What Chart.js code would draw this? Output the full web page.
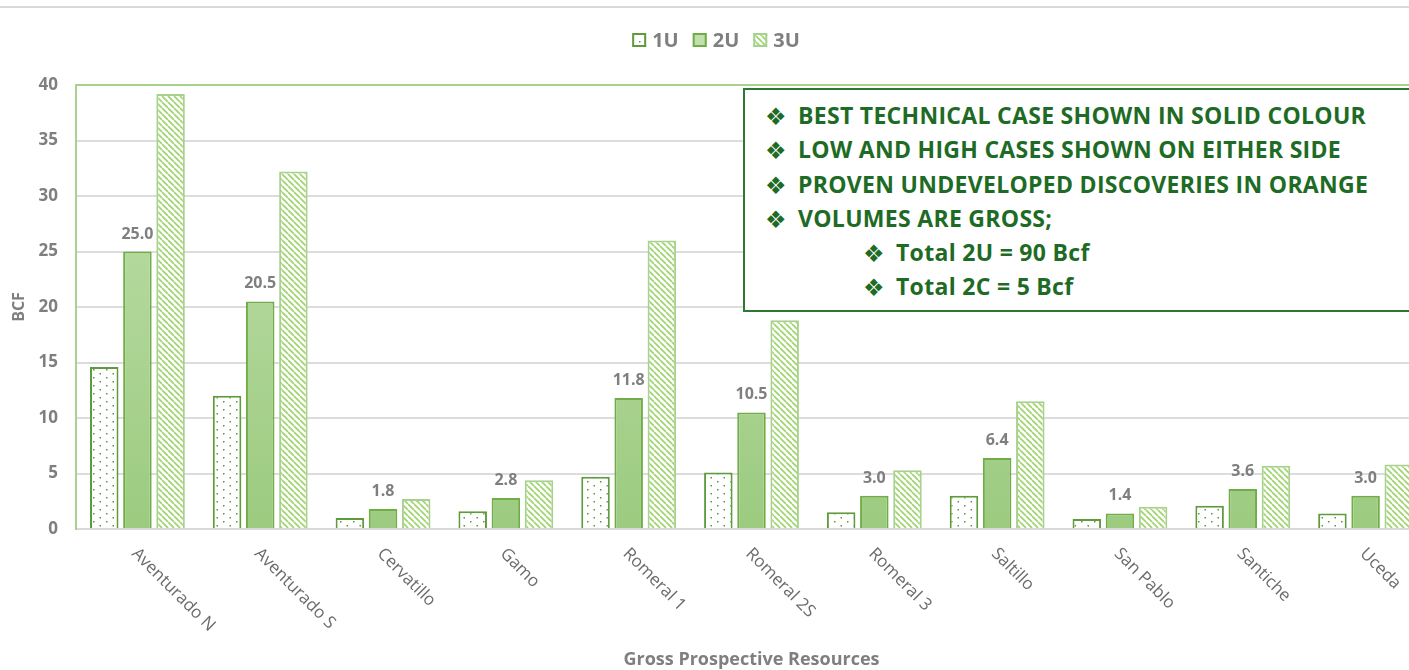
<!DOCTYPE html>
<html>
<head>
<meta charset="utf-8">
<script src="https://cdn.jsdelivr.net/npm/chart.js@4.4.0/dist/chart.umd.min.js"></script>
<style>
  html, body { margin: 0; padding: 0; background: #fff; overflow: hidden; width: 1409px; height: 670px; }
  #wrap { position: absolute; left: 0; top: 0; width: 1440px; height: 670px; }
  #topline { position: absolute; left: 0; top: 6px; width: 1409px; height: 2px; background: #d9d9d9; }
  #note {
    position: absolute; left: 743px; top: 88px; width: 720px; height: 224px;
    box-sizing: border-box; border: 2px solid #2a7a30; background: #fff;
    padding: 8px 0 0 20px;
    font-family: "Open Sans", sans-serif; font-weight: bold; font-size: 23px; letter-spacing: 0.3px;
    color: #1e6b25; white-space: nowrap;
  }
  #note div { height: 34.3px; line-height: 34.3px; overflow: visible; }
  #note .b { display: inline-block; width: 33px; font-family: "DejaVu Sans"; font-size: 24px; line-height: 20px; vertical-align: -1px; }
  #note .sub { padding-left: 98px; }
</style>
</head>
<body>
<div id="wrap"><canvas id="chart"></canvas></div>
<div id="topline"></div>
<div id="note">
  <div><span class="b">❖</span>BEST TECHNICAL CASE SHOWN IN SOLID COLOUR</div>
  <div><span class="b">❖</span>LOW AND HIGH CASES SHOWN ON EITHER SIDE</div>
  <div><span class="b">❖</span>PROVEN UNDEVELOPED DISCOVERIES IN ORANGE</div>
  <div><span class="b">❖</span>VOLUMES ARE GROSS;</div>
  <div class="sub"><span class="b">❖</span>Total 2U = 90 Bcf</div>
  <div class="sub"><span class="b">❖</span>Total 2C = 5 Bcf</div>
</div>
<script>
// prospects and volumes (Bcf)
const prospects = ['Aventurado N', 'Aventurado S', 'Cervatillo', 'Gamo', 'Romeral 1', 'Romeral 2S',
                   'Romeral 3', 'Saltillo', 'San Pablo', 'Santiche', 'Uceda'];
const low1U  = [14.6, 12.0, 1.0, 1.6, 4.7, 5.1, 1.5, 3.0, 0.9, 2.1, 1.4];
const best2U = [25.0, 20.5, 1.8, 2.8, 11.8, 10.5, 3.0, 6.4, 1.4, 3.6, 3.0];
const high3U = [39.2, 32.2, 2.7, 4.4, 26.0, 18.8, 5.3, 11.5, 2.0, 5.7, 5.8];
const seriesNames = ['1U', '2U', '3U'];

const grey = '#7f7f7f';
const lightGreen = '#a9d18e';

// fill patterns
function dotPattern() {
  const c = document.createElement('canvas');
  c.width = 13; c.height = 8;
  const g = c.getContext('2d');
  g.fillStyle = '#fff';
  g.fillRect(0, 0, 13, 8);
  g.fillStyle = '#5f963c';
  g.fillRect(2, 1, 1.5, 1.5);
  g.fillRect(8.5, 5, 1.5, 1.5);
  return g.createPattern(c, 'repeat');
}

function stripePattern() {
  const n = 6;
  const c = document.createElement('canvas');
  c.width = n; c.height = n;
  const g = c.getContext('2d');
  g.fillStyle = '#fff';
  g.fillRect(0, 0, n, n);
  g.strokeStyle = '#9fd46e';
  g.lineWidth = 1.7;
  [-n, 0, n].forEach(o => {
    g.beginPath();
    g.moveTo(o, 0);
    g.lineTo(o + n, n);
    g.stroke();
  });
  return g.createPattern(c, 'repeat');
}

function solidFill(context) {
  const chart = context.chart;
  const area = chart.chartArea;
  if (!area) return '#a9d18e';
  const grad = chart.ctx.createLinearGradient(0, area.top, 0, area.bottom);
  grad.addColorStop(0, '#c2e0ae');
  grad.addColorStop(1, '#9ccb80');
  return grad;
}

const dots = dotPattern();
const stripes = stripePattern();

// legend, data labels, rotated category labels and x title
const extras = {
  id: 'extras',
  afterDatasetsDraw(chart) {
    const {ctx, chartArea, scales} = chart;
    ctx.save();

    // 2U values above bars
    ctx.font = 'bold 16px "Open Sans"';
    ctx.fillStyle = grey;
    ctx.textAlign = 'center';
    ctx.textBaseline = 'alphabetic';
    chart.getDatasetMeta(1).data.forEach((bar, i) => {
      ctx.fillText(best2U[i].toFixed(1), bar.x, bar.y - 13);
    });

    // category labels
    ctx.font = '17px "Open Sans"';
    ctx.fillStyle = '#6b6b6b';
    ctx.textAlign = 'left';
    ctx.textBaseline = 'middle';
    prospects.forEach((name, i) => {
      const x = scales.x.getPixelForValue(i);
      ctx.save();
      ctx.translate(x - 3, chartArea.bottom + 22);
      ctx.rotate(Math.PI / 4);
      ctx.fillText(name, 0, 0);
      ctx.restore();
    });

    // x title
    ctx.fillStyle = grey;
    ctx.font = 'bold 18px "Open Sans"';
    ctx.textAlign = 'center';
    ctx.fillText('Gross Prospective Resources', (chartArea.left + chartArea.right) / 2, chart.height - 10);

    // legend
    ctx.font = 'bold 20px "Open Sans"';
    const box = 14, gap = 6, spacing = 14;
    const widths = seriesNames.map(s => ctx.measureText(s).width);
    const total = widths.reduce((a, w) => a + box + gap + w, 0) + spacing * (seriesNames.length - 1);
    let x = 716 - total / 2;
    const cy = 40;
    ctx.textAlign = 'left';
    chart.data.datasets.forEach((ds, i) => {
      const el = chart.getDatasetMeta(i).data[0];
      ctx.fillStyle = el.options.backgroundColor;
      ctx.fillRect(x, cy - box / 2, box, box);
      ctx.strokeStyle = ds.borderColor;
      ctx.lineWidth = 2;
      ctx.strokeRect(x + 1, cy - box / 2 + 1, box - 2, box - 2);
      ctx.fillStyle = grey;
      ctx.fillText(seriesNames[i], x + box + gap, cy + 1);
      x += box + gap + widths[i] + spacing;
    });

    ctx.restore();
  }
};

new Chart(document.getElementById('chart'), {
  type: 'bar',
  data: {
    labels: prospects,
    datasets: [
      { label: '1U', data: low1U, backgroundColor: dots, borderColor: '#5f9a3c', borderWidth: 2 },
      { label: '2U', data: best2U, backgroundColor: solidFill, borderColor: '#70ad47', borderWidth: 2 },
      { label: '3U', data: high3U, backgroundColor: stripes, borderColor: lightGreen, borderWidth: 2 }
    ]
  },
  options: {
    responsive: true,
    maintainAspectRatio: false,
    animation: false,
    layout: { padding: { top: 85, right: 13, left: 0, bottom: 0 } },
    datasets: { bar: { categoryPercentage: 0.81, barPercentage: 0.86 } },
    plugins: { legend: { display: false }, tooltip: { enabled: false } },
    scales: {
      x: {
        grid: { display: false },
        border: { color: '#d9d9d9', width: 2 },
        ticks: { display: false },
        afterFit(scale) { scale.height = 141; }
      },
      y: {
        min: 0,
        max: 40,
        ticks: { stepSize: 5, padding: 18, color: grey, font: { family: 'Open Sans', size: 17, weight: 'bold' } },
        grid: {
          drawTicks: false,
          lineWidth: 2,
          color: c => (c.tick && c.tick.value === 40 ? lightGreen : '#dcdcdc')
        },
        border: { color: lightGreen, width: 2 },
        title: {
          display: true, text: 'BCF', color: grey,
          font: { family: 'Open Sans', size: 16, weight: 'bold' },
          padding: { top: 10, bottom: 0 }
        },
        afterFit(scale) { scale.width = 76; }
      }
    }
  },
  plugins: [extras]
});
</script>
</body>
</html>
